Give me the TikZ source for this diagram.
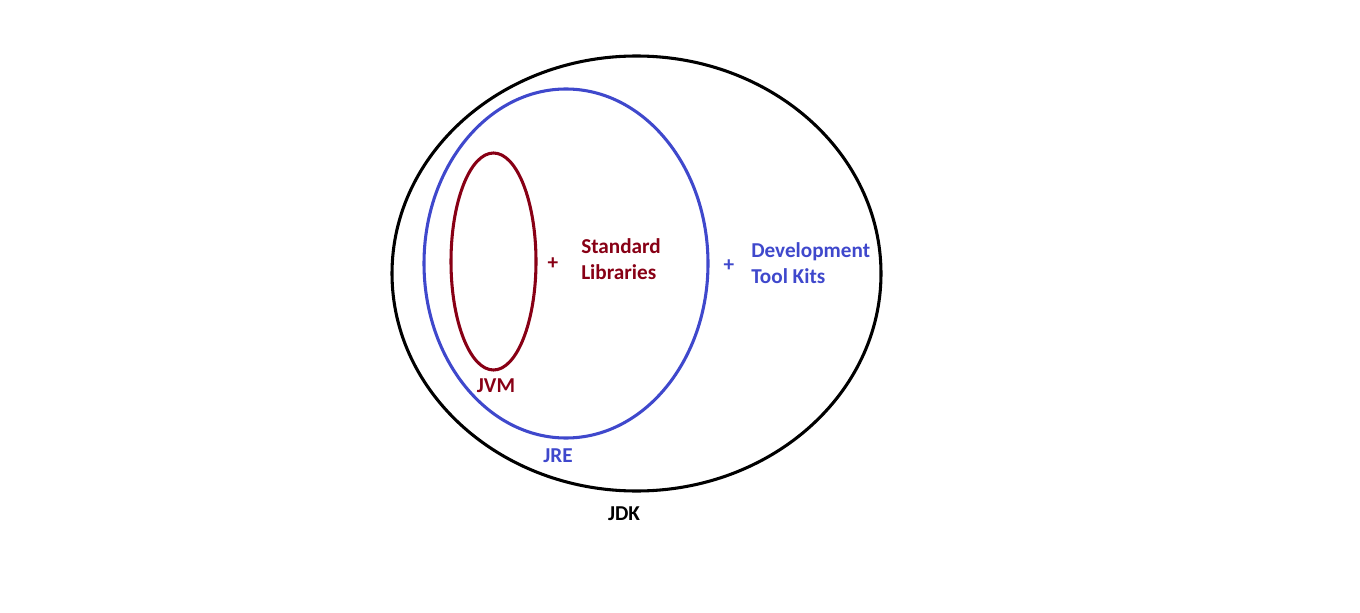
\documentclass[tikz,border=0pt]{standalone}
\usepackage{fontspec}
\setmainfont{Carlito}
\definecolor{jvmred}{RGB}{136,0,21}
\definecolor{jreblue}{RGB}{63,72,204}
\begin{document}
\begin{tikzpicture}[x=0.75pt,y=-0.75pt,
  ring/.style={line width=2.3pt},
  lbl/.style={font=\bfseries\fontsize{15.9}{19.5}\selectfont, inner sep=0pt},
  txt/.style={lbl, align=left, anchor=west}]
\useasboundingbox (0,0) rectangle (1360,613);
\draw[ring,black] (636.5,273.5) ellipse [x radius=244.5, y radius=217.5];
\draw[ring,jreblue] (566,263.5) ellipse [x radius=142, y radius=174.5];
\draw[ring,jvmred] (493.5,261.5) ellipse [x radius=42.5, y radius=108.5];
\node[lbl,text=jvmred] (plus1) at (553,264) {+};
\node[txt,text=jvmred] (stdlib) at (581,259) {Standard\\Libraries};
\node[lbl,text=jreblue] (plus2) at (729,266) {+};
\node[txt,text=jreblue] (devtools) at (751,263) {Development\\Tool Kits};
\node[lbl,text=jvmred] (jvm) at (496,386) {JVM};
\node[lbl,text=jreblue] (jre) at (558,456) {JRE};
\node[lbl,text=black] (jdk) at (624,514) {JDK};
\end{tikzpicture}
\end{document}
